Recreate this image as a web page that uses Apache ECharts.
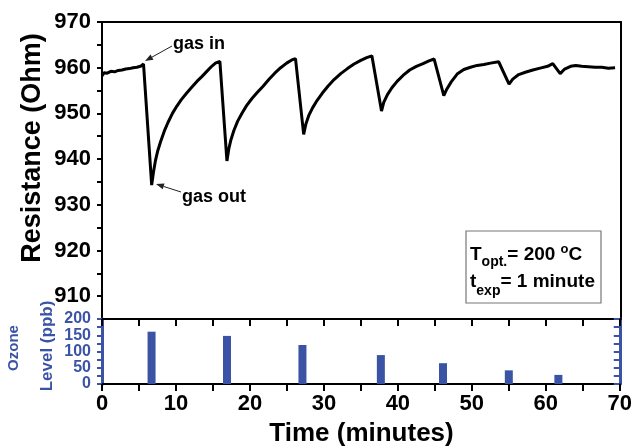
<!DOCTYPE html>
<html><head><meta charset="utf-8">
<script src="https://cdn.jsdelivr.net/npm/echarts@6/dist/echarts.min.js"></script>
<style>html,body{margin:0;padding:0;background:#fff}#c{width:635px;height:448px}</style>
</head><body><div id="c"></div>
<script>
// ---- data ----
const resTime = [0,0.3,0.7,1.2,1.7,2.2,2.7,3.2,3.7,4.2,4.7,5.2,5.6,
  6.7,6.95,7.2,7.5,7.9,8.4,8.9,9.5,10.1,10.7,11.4,12.1,12.8,13.5,14.2,14.8,15.3,15.9,
  16.85,17.1,17.4,17.8,18.3,18.9,19.5,20.2,20.9,21.7,22.5,23.3,24.1,24.9,25.6,26.1,
  27.2,27.5,27.9,28.4,29.0,29.7,30.5,31.3,32.2,33.1,34.0,34.9,35.7,36.4,
  37.7,38.0,38.5,39.1,39.8,40.6,41.5,42.4,43.3,44.1,44.8,
  46.1,46.5,47.1,47.9,48.8,49.7,50.6,51.5,52.4,53.5,
  54.9,55.4,56.2,57.1,58.1,59.1,60.1,60.8,
  61.8,62.4,63.2,63.9,64.7,65.6,66.5,67.4,68.3,69.2];
const resValue = [958.2,958.9,958.8,959.2,959.1,959.4,959.5,959.7,959.8,960.0,960.1,960.3,960.8,
  934.3,937.2,939.6,941.7,943.8,946.1,948.0,950.0,951.6,953.0,954.4,955.7,957.0,958.1,959.3,960.3,961.0,961.4,
  939.6,942.2,944.3,946.3,948.3,950.1,951.7,953.2,954.5,955.9,957.4,958.8,960.0,961.0,961.7,962.0,
  945.4,947.7,949.6,951.2,952.8,954.4,956.0,957.4,958.7,959.8,960.8,961.6,962.2,962.6,
  950.5,952.4,954.1,955.6,957.0,958.3,959.5,960.3,960.9,961.5,961.9,
  953.9,955.3,956.9,958.6,959.6,960.1,960.5,960.7,961.0,961.3,
  956.4,957.5,958.5,959.0,959.5,959.9,960.3,960.9,
  958.7,959.7,960.3,960.5,960.3,960.2,960.1,960.1,959.9,960.0];
const ozoneTime = [6.7,16.9,27.1,37.7,46.1,55.0,61.7];
const ozoneLevel = [161,148,120,89,64,42,28];
const resTickLabels = [910,920,930,940,950,960,970];
const timeTickLabels = [0,10,20,30,40,50,60,70];
const ozoneTickLabels = [0,50,100,150,200];

// ---- styling ----
const FF = '"Liberation Sans", Arial, sans-serif';
const BLUE = '#3a53a5';
const resData = resTime.map((t,i)=>[t,resValue[i]]);
const ozData = ozoneTime.map((t,i)=>[t,ozoneLevel[i]]);

const mctx = document.createElement('canvas').getContext('2d');
function tw(txt, size){ mctx.font = 'bold '+size+'px '+FF; return mctx.measureText(txt).width; }

function arrow(x1,y1,x2,y2){
  const a = Math.atan2(y2-y1,x2-x1), L=8, W=3;
  const bx = x2 - L*Math.cos(a), by = y2 - L*Math.sin(a);
  return [
    {type:'line', shape:{x1:x1,y1:y1,x2:bx,y2:by}, style:{stroke:'#222',lineWidth:1}},
    {type:'polygon', shape:{points:[[x2,y2],[bx+W*Math.sin(a),by-W*Math.cos(a)],[bx-W*Math.sin(a),by+W*Math.cos(a)]]}, style:{fill:'#222'}}
  ];
}
function pieces(x, list){
  const out=[]; let cx=x;
  list.forEach(p=>{
    out.push({type:'text', x:cx, y:p.y, style:{text:p.t, font:'bold '+p.s+'px '+FF, fill:'#000', align:'left', verticalAlign:'middle'}});
    cx += tw(p.t,p.s) + (p.gap||0);
  });
  return out;
}

const graphics = [
  {type:'text', x:33, y:148, rotation:Math.PI/2, style:{text:'Resistance (Ohm)', font:'bold 27px '+FF, fill:'#000', align:'center', verticalAlign:'middle'}},
  {type:'text', x:361.5, y:434, style:{text:'Time (minutes)', font:'bold 26px '+FF, fill:'#000', align:'center', verticalAlign:'middle'}},
  {type:'text', x:14, y:348, rotation:Math.PI/2, style:{text:'Ozone', font:'bold 15px '+FF, fill:BLUE, align:'center', verticalAlign:'middle'}},
  {type:'text', x:47, y:346, rotation:Math.PI/2, style:{text:'Level (ppb)', font:'bold 17px '+FF, fill:BLUE, align:'center', verticalAlign:'middle'}},
  {type:'text', x:173, y:44, style:{text:'gas in', font:'bold 18px '+FF, fill:'#000', align:'left', verticalAlign:'middle'}},
  {type:'text', x:182, y:197, style:{text:'gas out', font:'bold 18px '+FF, fill:'#000', align:'left', verticalAlign:'middle'}},
  ...arrow(172,46,145,61),
  ...arrow(181,192,156,184),
  {type:'rect', shape:{x:466,y:231,width:135,height:72}, style:{stroke:'#777',fill:null,lineWidth:1.2}},
  ...pieces(470,[{t:'T',s:19,y:255},{t:'opt.',s:14,y:262},{t:'= 200 ',s:19,y:255},{t:'o',s:13,y:249},{t:'C',s:19,y:255}]),
  ...pieces(470,[{t:'t',s:19,y:282},{t:'exp',s:14,y:291},{t:'= 1 minute',s:19,y:282}])
];

const chart = echarts.init(document.getElementById('c'), null, {renderer:'canvas'});
const blackLine = {show:true, onZero:false, lineStyle:{color:'#000', width:2}};
chart.setOption({
  animation:false,
  backgroundColor:'#fff',
  grid:[{left:102, right:14, top:22, height:297},{left:102, right:14, top:319, height:65}],
  xAxis:[
    {gridIndex:0, type:'value', min:0, max:70, interval:10, position:'bottom', axisLine:blackLine, axisTick:{show:false}, axisLabel:{show:false}, splitLine:{show:false}},
    {gridIndex:0, type:'value', min:0, max:70, interval:10, position:'top', axisLine:blackLine, axisTick:{show:false}, axisLabel:{show:false}, splitLine:{show:false}},
    {gridIndex:1, type:'value', min:0, max:70, interval:5, position:'bottom', axisLine:blackLine,
      axisTick:{show:true, length:7, lineStyle:{color:'#000', width:2}},
      axisLabel:{customValues:timeTickLabels, fontSize:22, fontWeight:'bold', fontFamily:FF, color:'#000', margin:9},
      splitLine:{show:false}},
    {gridIndex:1, type:'value', min:0, max:70, interval:5, position:'top', axisLine:blackLine,
      axisTick:{show:true, inside:true, length:7, lineStyle:{color:'#000', width:2}}, axisLabel:{show:false}, splitLine:{show:false}}
  ],
  yAxis:[
    {gridIndex:0, type:'value', min:905, max:970, interval:5, position:'left', axisLine:blackLine,
      axisTick:{show:true, length:5, lineStyle:{color:'#000', width:2}},
      axisLabel:{customValues:resTickLabels, fontSize:22, fontWeight:'bold', fontFamily:FF, color:'#000', margin:11},
      splitLine:{show:false}},
    {gridIndex:0, type:'value', min:905, max:970, interval:5, position:'right', axisLine:blackLine, axisTick:{show:false}, axisLabel:{show:false}, splitLine:{show:false}},
    {gridIndex:1, type:'value', min:0, max:200, interval:25, position:'left', axisLine:{show:true, onZero:false, lineStyle:{color:BLUE, width:3}},
      axisTick:{show:true, length:5, lineStyle:{color:BLUE, width:2}},
      axisLabel:{customValues:ozoneTickLabels, fontSize:16, fontWeight:'bold', fontFamily:FF, color:BLUE, margin:11},
      splitLine:{show:false}},
    {gridIndex:1, type:'value', min:0, max:200, interval:25, position:'right', axisLine:{show:true, onZero:false, lineStyle:{color:BLUE, width:3}},
      axisTick:{show:true, inside:true, length:6, lineStyle:{color:BLUE, width:2}}, axisLabel:{show:false}, splitLine:{show:false}}
  ],
  series:[
    {type:'line', xAxisIndex:0, yAxisIndex:0, data:resData, symbol:'none', lineStyle:{color:'#000', width:3}, z:3},
    {type:'bar', xAxisIndex:2, yAxisIndex:2, data:ozData, barWidth:8, itemStyle:{color:BLUE}}
  ],
  graphic:graphics
});
</script></body></html>
